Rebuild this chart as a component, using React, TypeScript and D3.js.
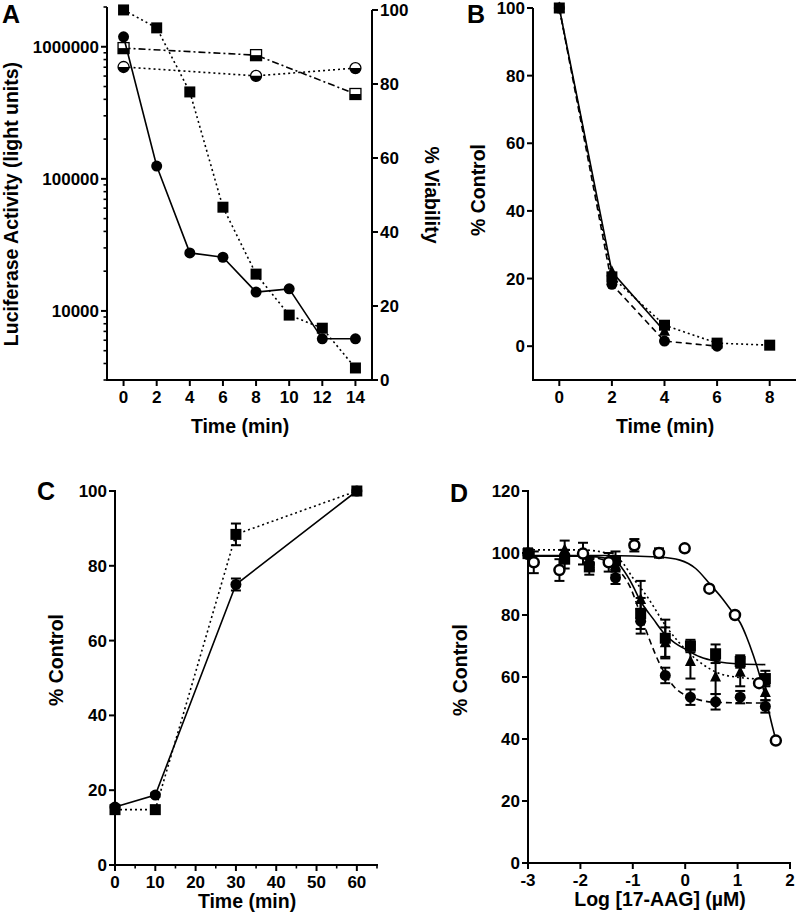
import React from 'react';
import * as d3 from 'd3';

const FONT = '"Liberation Sans", Arial, Helvetica, sans-serif';

// ---------- Panel A data ----------
const aTime = [0, 2, 4, 6, 8, 10, 12, 14];
const aLucCircle = [1190000, 125000, 27500, 25500, 13900, 14700, 6150, 6150];
const aLucSquare = [1900000, 1390000, 455000, 61000, 19000, 9300, 7400, 3700];
const aViabTime = [0, 8, 14];
const aViabSquare = [89.7, 87.8, 77.3];
const aViabCircle = [84.6, 82.2, 84.3];
const aXTicks = [0, 2, 4, 6, 8, 10, 12, 14];
const aLeftTicks = [10000, 100000, 1000000];
const aLeftTickLabels = ['10000', '100000', '1000000'];
const aRightTicks = [0, 20, 40, 60, 80, 100];

// ---------- Panel B data ----------
const bSquareTime = [0, 2, 4, 6, 8];
const bSquare = [100, 20.5, 6.2, 0.9, 0.3];
const bTriTime = [0, 2, 4];
const bTri = [100, 22, 4.4];
const bCircleTime = [0, 2, 4, 6];
const bCircle = [100, 18.3, 1.5, 0];
const bXTicks = [0, 2, 4, 6, 8];
const bYTicks = [0, 20, 40, 60, 80, 100];

// ---------- Panel C data ----------
const cTime = [0, 10, 30, 60];
const cCircle = [15.5, 18.7, 75, 100];
const cCircleErr = [0.5, 0.5, 1.6, 0];
const cSquare = [14.8, 14.8, 88.4, 100];
const cSquareErr = [0, 0, 2.9, 0];
const cXTicks = [0, 10, 20, 30, 40, 50, 60];
const cXMinor = [5, 15, 25, 35, 45, 55, 65];
const cYTicks = [0, 20, 40, 60, 80, 100];

// ---------- Panel D data ----------
const dX = [-3.0, -2.3, -1.83, -1.33, -0.85, -0.38, 0.1, 0.58, 1.05, 1.53];
const dSquare = [99.8, 98, 95.5, 97.5, 80.5, 72.5, 70, 67.5, 65, 59.5];
const dSquareErr = [1, 3, 2.5, 3, 5, 6, 2, 3, 2, 2.5];
const dTri = [100.5, 101, 96.5, 96, 85, 71, 65, 60, 61.5, 55];
const dTriErr = [1, 3, 2, 3, 6, 5, 5.5, 5.5, 4.5, 2.5];
const dCircle = [99.5, 99, 96.5, 92, 78, 60.5, 53.5, 52, 53.5, 50.5];
const dCircleErr = [1, 2, 2, 2, 4, 2.5, 2.5, 2.5, 2, 2];
const dOpenX = [-2.89, -2.4, -1.95, -1.46, -0.97, -0.5, -0.01, 0.46, 0.95, 1.41, 1.73];
const dOpen = [97, 94.5, 99.8, 97, 102.5, 100, 101.5, 88.5, 80, 58, 39.5];
const dOpenErr = [3.5, 3.5, 3.5, 3, 2, 1.5, 0, 0, 0, 0, 0];
// fitted curves
const dFitOpenX = [-3, -1.5, -0.5, -0.1, 0.2, 0.47, 0.7, 0.92, 1.05, 1.17, 1.3, 1.43, 1.56, 1.65, 1.73];
const dFitOpenY = [99.2, 99.2, 98.7, 97.7, 95, 90, 85.5, 80.5, 77.5, 73, 67, 60, 51.5, 45, 39.7];
const dFitSquareX = [-3, -2, -1.37, -1.2, -1.0, -0.87, -0.6, -0.4, -0.2, 0, 0.28, 0.6, 1.05, 1.53];
const dFitSquareY = [99, 99, 98, 95, 89.5, 85, 78.5, 74, 71, 69, 66.5, 65, 64.2, 64];
const dFitTriX = [-3, -2, -1.5, -1.2, -1.0, -0.73, -0.35, 0.09, 0.6, 1.05, 1.52];
const dFitTriY = [101, 101, 100, 97, 92, 86, 76, 67.5, 61.5, 59.8, 59.3];
const dFitCircleX = [-3, -2, -1.6, -1.3, -1.05, -0.85, -0.68, -0.48, -0.22, 0.16, 0.6, 1.55];
const dFitCircleY = [99, 99, 98, 95, 89, 80, 72, 64, 57, 53.2, 51.8, 51.6];
const dXTicks = [-3, -2, -1, 0, 1, 2];
const dYTicks = [0, 20, 40, 60, 80, 100, 120];

const TICK = 17;
const TITLE = 19.5;
const AXW = 2;

type MType = 'circle' | 'square' | 'tri' | 'open' | 'halfCircle' | 'halfSquare';

function Marker({ type, x, y }: { type: MType; x: number; y: number }) {
  const r = 5.5;
  const s = 11;
  if (type === 'circle') return <circle cx={x} cy={y} r={r} fill="#000" />;
  if (type === 'square') return <rect x={x - s / 2} y={y - s / 2} width={s} height={s} fill="#000" />;
  if (type === 'tri') {
    const h = 11;
    return <path d={`M${x},${y - h * 0.6}L${x + h / 2},${y + h * 0.4}L${x - h / 2},${y + h * 0.4}Z`} fill="#000" />;
  }
  if (type === 'open') return <circle cx={x} cy={y} r={r - 0.5} fill="#fff" stroke="#000" strokeWidth={2.5} />;
  if (type === 'halfCircle')
    return (
      <g>
        <circle cx={x} cy={y} r={r} fill="#fff" stroke="#000" strokeWidth={1.3} />
        <path d={`M${x - r},${y}A${r},${r} 0 0 0 ${x + r},${y}Z`} fill="#000" />
      </g>
    );
  return (
    <g>
      <rect x={x - s / 2} y={y - s / 2} width={s} height={s} fill="#fff" stroke="#000" strokeWidth={1.3} />
      <rect x={x - s / 2} y={y} width={s} height={s / 2} fill="#000" />
    </g>
  );
}

function ErrBar({ x, y0, y1 }: { x: number; y0: number; y1: number }) {
  const c = 5;
  return (
    <g stroke="#000" strokeWidth={2}>
      <line x1={x} x2={x} y1={y0} y2={y1} />
      <line x1={x - c} x2={x + c} y1={y0} y2={y0} />
      <line x1={x - c} x2={x + c} y1={y1} y2={y1} />
    </g>
  );
}

function LeftAxis({ x, y0, y1, ticks, labels, scale, minor = [] as number[] }: any) {
  return (
    <g>
      <line x1={x} x2={x} y1={y0} y2={y1} stroke="#000" strokeWidth={AXW} />
      {minor.map((t: number, i: number) => (
        <line key={'m' + i} x1={x - 3.5} x2={x} y1={scale(t)} y2={scale(t)} stroke="#000" strokeWidth={1.6} />
      ))}
      {ticks.map((t: number, i: number) => (
        <g key={i}>
          <line x1={x - 6} x2={x} y1={scale(t)} y2={scale(t)} stroke="#000" strokeWidth={AXW} />
          <text x={x - 8} y={scale(t) + 6} textAnchor="end" fontSize={TICK} fontWeight="bold" fontFamily={FONT}>
            {labels ? labels[i] : String(t)}
          </text>
        </g>
      ))}
    </g>
  );
}

function BottomAxis({ y, x0, x1, ticks, scale, minor = [] as number[], labels }: any) {
  return (
    <g>
      <line x1={x0} x2={x1} y1={y} y2={y} stroke="#000" strokeWidth={AXW} />
      {minor.map((t: number, i: number) => (
        <line key={'m' + i} x1={scale(t)} x2={scale(t)} y1={y} y2={y + 3.5} stroke="#000" strokeWidth={1.6} />
      ))}
      {ticks.map((t: number, i: number) => (
        <g key={i}>
          <line x1={scale(t)} x2={scale(t)} y1={y} y2={y + 6} stroke="#000" strokeWidth={AXW} />
          <text x={scale(t)} y={y + 23} textAnchor="middle" fontSize={TICK} fontWeight="bold" fontFamily={FONT}>
            {labels ? labels[i] : String(t)}
          </text>
        </g>
      ))}
    </g>
  );
}

function Title({ x, y, text, rot = 0, anchor = 'middle', size = TITLE }: any) {
  return (
    <text
      transform={`translate(${x},${y}) rotate(${rot})`}
      textAnchor={anchor}
      fontSize={size}
      fontWeight="bold"
      fontFamily={FONT}
    >
      {text}
    </text>
  );
}

function Series({ xs, ys, sx, sy, dash, type, width = 1.6, curve }: any) {
  const line = d3
    .line<number>()
    .x((_, i) => sx(xs[i]))
    .y((v) => sy(v));
  if (curve) line.curve(curve);
  return (
    <g>
      <path d={line(ys) || ''} fill="none" stroke="#000" strokeWidth={width} strokeDasharray={dash} />
      {type && ys.map((v: number, i: number) => <Marker key={i} type={type} x={sx(xs[i])} y={sy(v)} />)}
    </g>
  );
}

function PanelA() {
  const sx = d3.scaleLinear().domain([-1, 15]).range([107, 372]);
  const syL = d3.scaleLog().domain([3000, 2e6]).range([380, 7]);
  const syR = d3.scaleLinear().domain([0, 100]).range([380, 10]);
  const minor: number[] = [];
  [1000, 10000, 100000, 1000000].forEach((p) => {
    for (let m = 2; m <= 9; m++) {
      const v = m * p;
      if (v >= 3000 && v <= 2e6) minor.push(v);
    }
  });
  return (
    <g>
      <Title x={2} y={23} text="A" anchor="start" size={25} />
      <LeftAxis x={107} y0={7} y1={381} ticks={aLeftTicks} labels={aLeftTickLabels} scale={syL} minor={minor} />
      <line x1={372} x2={372} y1={10} y2={381} stroke="#000" strokeWidth={AXW} />
      {aRightTicks.map((t, i) => (
        <g key={i}>
          <line x1={372} x2={378} y1={syR(t)} y2={syR(t)} stroke="#000" strokeWidth={AXW} />
          <text x={380} y={syR(t) + 6} fontSize={TICK} fontWeight="bold" fontFamily={FONT}>
            {t}
          </text>
        </g>
      ))}
      <BottomAxis y={380} x0={106} x1={373} ticks={aXTicks} scale={sx} />
      <Title x={18} y={204} rot={-90} text="Luciferase Activity (light units)" />
      <Title x={425} y={195} rot={90} text="% Viability" />
      <Title x={240} y={433} text="Time (min)" />
      <Series xs={aViabTime} ys={aViabCircle} sx={sx} sy={syR} dash="2,3" type="halfCircle" />
      <Series xs={aViabTime} ys={aViabSquare} sx={sx} sy={syR} dash="7,3,2,3" type="halfSquare" />
      <Series xs={aTime} ys={aLucSquare} sx={sx} sy={syL} dash="2,3" type="square" />
      <Series xs={aTime} ys={aLucCircle} sx={sx} sy={syL} type="circle" />
    </g>
  );
}

function PanelB() {
  const sx = d3.scaleLinear().domain([-1, 9]).range([533, 796]);
  const sy = d3.scaleLinear().domain([-10, 100]).range([380, 8]);
  return (
    <g>
      <Title x={467} y={23} text="B" anchor="start" size={25} />
      <LeftAxis x={533} y0={8} y1={381} ticks={bYTicks} scale={sy} />
      <BottomAxis y={380} x0={532} x1={796} ticks={bXTicks} scale={sx} />
      <Title x={485} y={190} rot={-90} text="% Control" />
      <Title x={665} y={433} text="Time (min)" />
      <Series xs={bCircleTime} ys={bCircle} sx={sx} sy={sy} dash="6,4" type="circle" />
      <Series xs={bSquareTime} ys={bSquare} sx={sx} sy={sy} dash="2,3" type="square" />
      <Series xs={bTriTime} ys={bTri} sx={sx} sy={sy} type="tri" />
    </g>
  );
}

function PanelC() {
  const sx = d3.scaleLinear().domain([0, 65]).range([115, 377]);
  const sy = d3.scaleLinear().domain([0, 100]).range([865, 491]);
  return (
    <g>
      <Title x={37} y={500} text="C" anchor="start" size={25} />
      <LeftAxis x={115} y0={490} y1={866} ticks={cYTicks} scale={sy} />
      <BottomAxis y={865} x0={114} x1={378} ticks={cXTicks} minor={cXMinor} scale={sx} />
      <Title x={63} y={660} rot={-90} text="% Control" />
      <Title x={247} y={908} text="Time (min)" />
      {cTime.map((t, i) =>
        cSquareErr[i] > 0 ? (
          <ErrBar key={'s' + i} x={sx(t)} y0={sy(cSquare[i] + cSquareErr[i])} y1={sy(cSquare[i] - cSquareErr[i])} />
        ) : null
      )}
      {cTime.map((t, i) =>
        cCircleErr[i] > 0 ? (
          <ErrBar key={'c' + i} x={sx(t)} y0={sy(cCircle[i] + cCircleErr[i])} y1={sy(cCircle[i] - cCircleErr[i])} />
        ) : null
      )}
      <Series xs={cTime} ys={cSquare} sx={sx} sy={sy} dash="2,3" type="square" />
      <Series xs={cTime} ys={cCircle} sx={sx} sy={sy} type="circle" />
    </g>
  );
}

function PanelD() {
  const sx = d3.scaleLinear().domain([-3, 2]).range([528, 790]);
  const sy = d3.scaleLinear().domain([0, 120]).range([863, 491]);
  const errs = (xs: number[], ys: number[], es: number[], k: string) =>
    xs.map((x, i) =>
      es[i] > 0 ? <ErrBar key={k + i} x={sx(x)} y0={sy(ys[i] + es[i])} y1={sy(ys[i] - es[i])} /> : null
    );
  return (
    <g>
      <Title x={450} y={502} text="D" anchor="start" size={25} />
      <LeftAxis x={528} y0={490} y1={864} ticks={dYTicks} scale={sy} />
      <BottomAxis y={863} x0={527} x1={791} ticks={dXTicks} scale={sx} />
      <Title x={467} y={670} rot={-90} text="% Control" />
      <Title x={660} y={906} text="Log [17-AAG] (µM)" />
      <Series xs={dFitOpenX} ys={dFitOpenY} sx={sx} sy={sy} curve={d3.curveMonotoneX} />
      <Series xs={dFitSquareX} ys={dFitSquareY} sx={sx} sy={sy} curve={d3.curveMonotoneX} />
      <Series xs={dFitTriX} ys={dFitTriY} sx={sx} sy={sy} dash="2,3" curve={d3.curveMonotoneX} />
      <Series xs={dFitCircleX} ys={dFitCircleY} sx={sx} sy={sy} dash="6,4" curve={d3.curveMonotoneX} />
      {errs(dX, dSquare, dSquareErr, 'es')}
      {errs(dX, dTri, dTriErr, 'et')}
      {errs(dX, dCircle, dCircleErr, 'ec')}
      {errs(dOpenX, dOpen, dOpenErr, 'eo')}
      {dX.map((x, i) => (
        <Marker key={'ms' + i} type="square" x={sx(x)} y={sy(dSquare[i])} />
      ))}
      {dX.map((x, i) => (
        <Marker key={'mt' + i} type="tri" x={sx(x)} y={sy(dTri[i])} />
      ))}
      {dX.map((x, i) => (
        <Marker key={'mc' + i} type="circle" x={sx(x)} y={sy(dCircle[i])} />
      ))}
      {dOpenX.map((x, i) => (
        <Marker key={'mo' + i} type="open" x={sx(x)} y={sy(dOpen[i])} />
      ))}
    </g>
  );
}

export default function App() {
  return (
    <svg
      width={800}
      height={922}
      viewBox="0 0 800 922"
      style={{ position: 'absolute', left: 0, top: 0, background: '#fff' }}
    >
      <rect x={0} y={0} width={800} height={922} fill="#fff" />
      <PanelA />
      <PanelB />
      <PanelC />
      <PanelD />
    </svg>
  );
}
